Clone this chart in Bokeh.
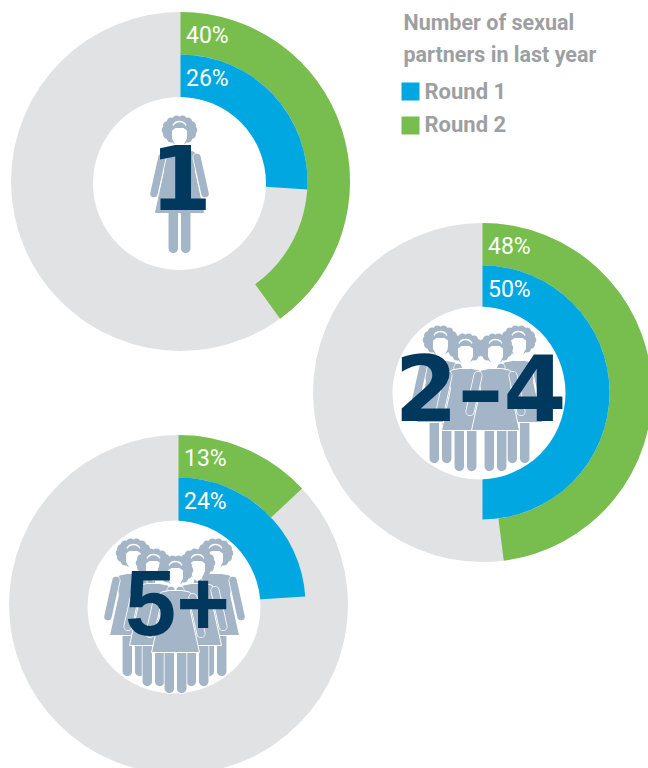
import math
from bokeh.plotting import figure
from bokeh.models import Range1d
from bokeh.core.properties import value
from bokeh.embed import file_html
from bokeh.resources import INLINE

# ---- data
groups = ["1", "2–4", "5+"]
round1 = [26, 50, 24]
round2 = [40, 48, 13]
series_names = ["Round 1", "Round 2"]
legend_title = ["Number of sexual", "partners in last year"]

BLUE, GREEN, GRAY = "#00A7E0", "#78BE4E", "#E1E2E4"
BODY, DARK, TITLE = "#A3B5C6", "#00395D", "#9D9FA2"
LABEL_FONT = "Roboto"

W, H = 648, 768
p = figure(width=W, height=H, output_backend="svg", toolbar_location=None,
           x_range=Range1d(0, 648), y_range=Range1d(0, 768), min_border=0,
           outline_line_color=None, background_fill_color="white")
p.axis.visible = False
p.grid.visible = False

def Y(py):
    return 768 - py

def label(x, base, txt, font, size, color, align="left", style="normal"):
    # bokeh's alphabetic box sits 0.4em under the requested position
    p.text([x], [Y(base - 0.4 * size)], text=[txt], text_font=value(font), text_font_style=style,
           text_font_size=f"{size}px", text_color=color, text_align=align,
           text_baseline="alphabetic")

centres = [(180, 181), (482, 392), (178, 604)]
holes = [(179, 183), (478.5, 392.5), (173.5, 606.5)]
big_pos = [(180.5, 212), (480, 425), (177, 639)]
big_font = ["DejaVu Sans", "DejaVu Sans", "Liberation Sans"]
big_size = [89, 91, 92]
R_OUT, R_MID, R_HOLE = 169.5, 127, 86.5

def frac_angle(pct):
    return math.pi / 2 - pct / 100 * 2 * math.pi

def person(cx, top, outline=False):
    X = lambda u: cx + u
    V = lambda v: Y(top + v)

    def strokes(seg, lw):
        xs = [[X(a) for a, _ in s] for s in seg]
        ys = [[V(b) for _, b in s] for s in seg]
        p.multi_line(xs, ys, line_color="white", line_width=lw + 1.6, line_cap="round")
        p.multi_line(xs, ys, line_color=BODY, line_width=lw, line_cap="round")

    strokes([[(-6.2, 97), (-6.2, 133)], [(6.2, 97), (6.2, 133)]], 9.5)
    dress = [(-6, 35), (-14, 36.5), (-18, 41), (-15, 56), (-24, 97), (24, 97), (15, 56), (18, 41), (14, 36.5), (6, 35)]
    p.patch([X(a) for a, _ in dress], [V(b) for _, b in dress], fill_color=BODY,
            line_color="white" if outline else BODY, line_width=1)
    strokes([[(-17.5, 42), (-25.5, 78)], [(17.5, 42), (25.5, 78)]], 7.5)
    curls = 14
    cxs = [X(13.5 * math.cos(2 * math.pi * i / curls)) for i in range(curls)]
    cys = [V(14.5 + 10.5 * math.sin(2 * math.pi * i / curls)) for i in range(curls)]
    p.circle(cxs, cys, radius=4.3, fill_color=BODY, line_color=None)
    p.ellipse([X(0)], [V(15)], width=30, height=26, fill_color=BODY, line_color=None)
    face = [(-7.5, 15), (-4, 12.5), (4, 12.5), (7.5, 15), (7.5, 23), (4, 30), (0, 33), (-4, 30), (-7.5, 23)]
    p.patch([X(a) for a, _ in face], [V(b) for _, b in face], fill_color="white", line_color=None)
    p.arc([X(0)], [V(13.5)], radius=7.5, start_angle=0.5, end_angle=math.pi - 0.5,
          line_color="white", line_width=1.3)

crowds = [
    [(179, 115)],
    [(440, 325), (518, 325), (465, 333), (495, 333)],
    [(133, 538), (215, 538), (153, 548), (197, 548), (175, 555)],
]

for i, g in enumerate(groups):
    cx, cy = centres[i]
    p.circle([cx], [Y(cy)], radius=R_OUT, fill_color=GRAY, line_color=None)
    p.annular_wedge([cx], [Y(cy)], inner_radius=R_MID, outer_radius=R_OUT,
                    start_angle=frac_angle(round2[i]), end_angle=math.pi / 2,
                    fill_color=GREEN, line_color=None)
    p.wedge([cx], [Y(cy)], radius=R_MID, start_angle=frac_angle(round1[i]), end_angle=math.pi / 2,
            fill_color=BLUE, line_color=None)
    hx, hy = holes[i]
    p.circle([hx], [Y(hy)], radius=R_HOLE, fill_color="white", line_color=None)
    for (px, top) in crowds[i]:
        person(px, top, outline=len(crowds[i]) > 1)
    bx, by = big_pos[i]
    label(bx, by, g, big_font[i], big_size[i], DARK, align="center", style="bold")
    for val, off in ((round2[i], 136.5), (round1[i], 93.5)):
        label(cx + 5.5, cy - off, f"{val}%", LABEL_FONT, 23, "white")

for j, line in enumerate(legend_title):
    label(403, 31 + 32 * j, line, LABEL_FONT, 21.5, TITLE, style="bold")
for j, (name, col) in enumerate(zip(series_names, (BLUE, GREEN))):
    yy = 91 + 34 * j
    p.rect([410], [Y(yy)], width=18, height=18, fill_color=col, line_color=None)
    label(424, 100 + 32.5 * j, name, LABEL_FONT, 22, TITLE, style="bold")

open("out.html", "w").write(file_html(p, INLINE))
